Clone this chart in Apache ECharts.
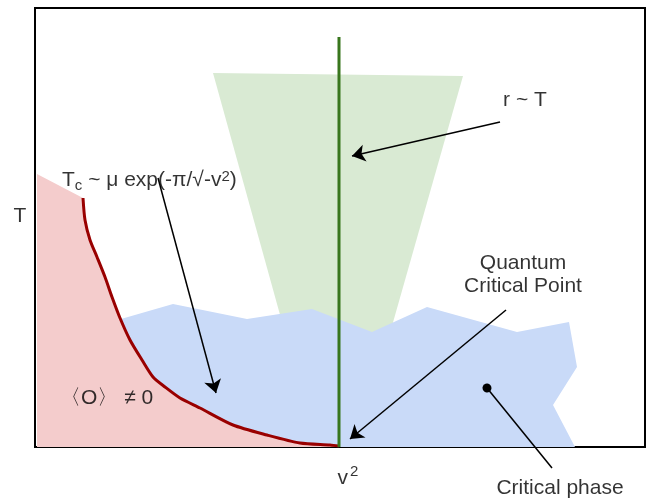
<!DOCTYPE html>
<html><head><meta charset="utf-8">
<script src="https://cdn.jsdelivr.net/npm/echarts@6/dist/echarts.min.js"></script>
<style>html,body{margin:0;padding:0;background:#fff}#c{width:652px;height:499px}</style>
</head><body><div id="c"></div>
<script>
// Schematic units: x ~ v^2 (0..610), y ~ T (0..439)
const tcCurve = [[48,249],[50,227],[55,207],[62,190],[70,170],[77,150],[85,129],[95,107],[107,87],[118,70],[130,60],[145,49],[165,39],[198,22],[232,12],[265,4],[295,2],[304,1]];
const orderedPhase = [[2,273],[48,249]].concat(tcCurve).concat([[304,0],[2,0]]);
const criticalPhase = [[86,128],[138,143],[212,128],[277,138],[337,115],[392,140],[482,115],[534,125],[542,80],[518,42],[540,0],[86,0]];
const quantumCritical = [[178,374],[428,371],[353,107],[252,107]];
const criticalLine = [[304,0],[304,410]];
const arrows = [
  {from:[123,269], to:[181,54]},
  {from:[465,325], to:[317,291]},
  {from:[471,137], to:[315,8]}
];
const dotLine = {from:[452,59], to:[517,-21]};
const labelTexts = [
  {pos:[490,347], text:'r ~ T', align:'center'},
  {pos:[27,267], text:'{a|T}{sub|c}{a| ~ μ exp(-π/√-v}{sup|2}{a|)}', align:'left'},
  {pos:[25,49], text:'〈O〉 ≠ 0', align:'left'},
  {pos:[488,184], text:'Quantum', align:'center'},
  {pos:[488,161], text:'Critical Point', align:'center'},
  {pos:[525,-41], text:'Critical phase', align:'center'},
  {pos:[-15,231], text:'T', align:'center'},
  {pos:[313,-31], text:'{a|v}{s|2}', align:'center'}
];

const FONT = '"Liberation Sans", Arial, Helvetica, sans-serif';
const chart = echarts.init(document.getElementById('c'));

function poly(name, pts, color, z){
  return {
    type:'custom', name, coordinateSystem:'cartesian2d', z, silent:true,
    data:[[0,0]],
    renderItem:(params, api)=>({
      type:'polygon',
      shape:{points: pts.map(p=>api.coord(p))},
      style:{fill:color}
    })
  };
}

const rich = {
  a:{fontSize:21, fontFamily:FONT, color:'#000'},
  sub:{fontSize:15, fontFamily:FONT, color:'#000', padding:[12,0,0,0]},
  sup:{fontSize:15, fontFamily:FONT, color:'#000', padding:[0,0,6,0]},
  s:{fontSize:15, fontFamily:FONT, color:'#000', padding:[0,0,12,2]}
};

chart.setOption({
  animation:false,
  grid:{left:35, right:7, top:8, bottom:52, show:true, borderColor:'#000', borderWidth:2, backgroundColor:'transparent'},
  xAxis:{type:'value', min:0, max:610, axisLine:{show:false}, axisTick:{show:false}, axisLabel:{show:false}, splitLine:{show:false}},
  yAxis:{type:'value', min:0, max:439, axisLine:{show:false}, axisTick:{show:false}, axisLabel:{show:false}, splitLine:{show:false}},
  series:[
    poly('quantumCritical', quantumCritical, '#d9ead3', 1),
    poly('criticalPhase', criticalPhase, '#c9daf8', 2),
    poly('orderedPhase', orderedPhase, '#f4cccc', 3),
    {type:'line', data:tcCurve, smooth:0.25, symbol:'none', z:4, lineStyle:{color:'#990000', width:3, join:'round'}},
    {type:'line', data:criticalLine, symbol:'none', z:5, lineStyle:{color:'#38761d', width:3}},
    {type:'lines', coordinateSystem:'cartesian2d', z:6, clip:false, symbol:['none','arrow'], symbolSize:[0,13],
      lineStyle:{color:'#000', width:1.5, opacity:1},
      data:arrows.map(a=>({coords:[a.from, a.to]}))},
    {type:'lines', coordinateSystem:'cartesian2d', z:6, clip:false, symbol:['circle','none'], symbolSize:[9,0],
      lineStyle:{color:'#000', width:1.5, opacity:1},
      data:[{coords:[dotLine.from, dotLine.to]}]},
    {type:'scatter', z:7, clip:false, symbolSize:0, silent:true,
      data:labelTexts.map(l=>({value:l.pos, label:{show:true, position:'inside', align:l.align, verticalAlign:'middle',
        formatter:l.text, fontSize:21, fontFamily:FONT, color:'#000', rich:rich}}))}
  ]
});
</script></body></html>
